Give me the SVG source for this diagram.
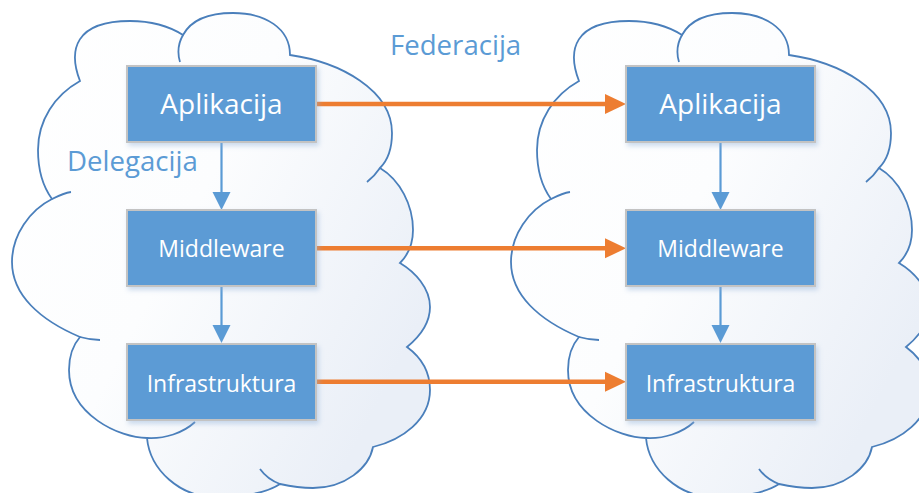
<svg xmlns="http://www.w3.org/2000/svg" xmlns:xlink="http://www.w3.org/1999/xlink" width="919" height="493" viewBox="0 0 919 493">
<style>
.cloud-fill{fill:url(#cloudGrad);stroke:#4a7fbb;stroke-width:1.8;stroke-linejoin:miter}
.cloud-inner{fill:none;stroke:#4a7fbb;stroke-width:1.8}
.box{fill:#5b9bd5;stroke:#c3c3c3;stroke-width:2;filter:url(#shadow)}
.btxt{font-family:"Open Sans","Noto Sans",sans-serif;fill:#ffffff;text-anchor:middle}
.lbl{font-family:"Open Sans","Noto Sans",sans-serif;fill:#5b9bd5;font-size:27.6px}
.vline{stroke:#5b9bd5;stroke-width:2.2;fill:none}
.vhead{fill:#5b9bd5}
.oline{stroke:#ed7d31;stroke-width:4.5;fill:none;stroke-linecap:round}
.ohead{fill:#ed7d31}
</style>
<defs>
<linearGradient id="cloudGrad" x1="0" y1="0" x2="1" y2="0.6">
<stop offset="0" stop-color="#ffffff"/>
<stop offset="0.5" stop-color="#fcfdfe"/>
<stop offset="1" stop-color="#eaeff7"/>
</linearGradient>
<filter id="shadow" x="-10%" y="-15%" width="125%" height="140%">
<feDropShadow dx="2" dy="3" stdDeviation="2.5" flood-color="#8fb0d8" flood-opacity="0.45"/>
</filter>
<g id="cloudShape">
<path class="cloud-fill" d="M 52,199 C 44,188 38,172 38,150 C 38,120 55,95 80,81 C 68,50 75,21 130,21 C 155,21 172,28 183,35 C 190,22 205,13 233,13 C 265,13 290,28 290,55 C 340,62 392,90 392,133 C 392,148 388,160 380,168 C 400,180 413,205 413,230 C 413,245 408,255 400,263 C 415,272 430,288 430,307 C 430,325 418,338 407,347 C 422,358 430,372 430,390 C 430,420 402,440 373,447 C 369,468 345,488 313,488 C 300,488 289,486 280,484 C 265,494 240,497 215,497 C 180,497 150,470 147,438 C 120,438 69,415 69,370 C 69,356 73,345 80,337 C 40,320 12,295 12,262 C 12,235 30,210 52,199 Z"/>
<path class="cloud-inner" d="M 180,62 C 177,52 179,42 183,35 M 380,168 C 376,174 372,178 367,182 M 280,484 C 272,481 265,476 260,469 M 147,438 C 165,439 183,433 195,422 M 80,337 C 87,339 94,340 100,340 M 52,199 C 58,196 64,193 71,192"/>
</g>
</defs>

<g id="cloud-left"><use xlink:href="#cloudShape" href="#cloudShape"/></g>
<g id="cloud-right"><use xlink:href="#cloudShape" href="#cloudShape" transform="translate(499,0)"/></g>

<text id="label-federacija" class="lbl" x="390" y="55">Federacija</text>
<text id="label-delegacija" class="lbl" x="67" y="171">Delegacija</text>

<g id="connectors">
<line class="vline" x1="221.5" y1="143" x2="221.5" y2="194"/>
<polygon class="vhead" points="212.5,192 230.5,192 221.5,210"/>
<line class="vline" x1="221.5" y1="287" x2="221.5" y2="327"/>
<polygon class="vhead" points="212.5,325 230.5,325 221.5,343"/>
<line class="vline" x1="720.5" y1="143" x2="720.5" y2="194"/>
<polygon class="vhead" points="711.5,192 729.5,192 720.5,210"/>
<line class="vline" x1="720.5" y1="287" x2="720.5" y2="327"/>
<polygon class="vhead" points="711.5,325 729.5,325 720.5,343"/>
<line class="oline" x1="316" y1="104" x2="607" y2="104"/>
<polygon class="ohead" points="605,94 626,104 605,114"/>
<line class="oline" x1="316" y1="248.3" x2="607" y2="248.3"/>
<polygon class="ohead" points="605,238.3 626,248.3 605,258.3"/>
<line class="oline" x1="316" y1="381.7" x2="607" y2="381.7"/>
<polygon class="ohead" points="605,371.7 626,381.7 605,391.7"/>
</g>

<g id="node-aplikacija-left"><rect class="box" x="127" y="66" width="189" height="76"/><text class="btxt" x="221.5" y="113.5" font-size="28">Aplikacija</text></g>
<g id="node-middleware-left"><rect class="box" x="127" y="210" width="189" height="76"/><text class="btxt" x="221.5" y="256.7" font-size="23">Middleware</text></g>
<g id="node-infrastruktura-left"><rect class="box" x="127" y="344" width="189" height="76"/><text class="btxt" x="221.5" y="391.7" font-size="23">Infrastruktura</text></g>
<g id="node-aplikacija-right"><rect class="box" x="626" y="66" width="189" height="76"/><text class="btxt" x="720.5" y="113.5" font-size="28">Aplikacija</text></g>
<g id="node-middleware-right"><rect class="box" x="626" y="210" width="189" height="76"/><text class="btxt" x="720.5" y="256.7" font-size="23">Middleware</text></g>
<g id="node-infrastruktura-right"><rect class="box" x="626" y="344" width="189" height="76"/><text class="btxt" x="720.5" y="391.7" font-size="23">Infrastruktura</text></g>
</svg>
